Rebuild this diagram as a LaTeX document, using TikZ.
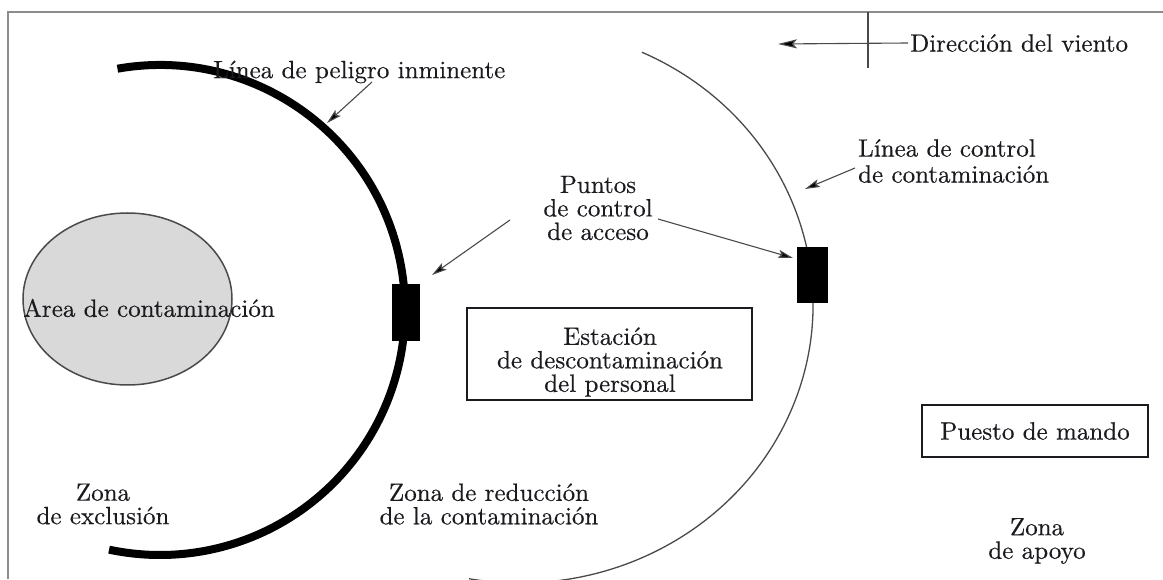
\documentclass[tikz,border=0pt]{standalone}
\usepackage{fontspec}
\newfontfamily\reffam{lmroman10-regular.otf}[FakeBold=0.4]
\usetikzlibrary{arrows.meta,shapes.geometric}
\definecolor{ink}{HTML}{1A1A1F}
\definecolor{linegray}{HTML}{4A4A4A}
\definecolor{framegray}{HTML}{8C8C8C}
\definecolor{areafill}{HTML}{D9D9D9}
\begin{document}
\begin{tikzpicture}[x=1pt,y=1pt,
  lbl/.style={text=ink,font=\reffam\fontsize{25}{23.5}\selectfont,inner sep=0pt,align=center},
  lblleft/.style={lbl,align=left,font=\reffam\fontsize{25}{26}\selectfont},
  framebox/.style={draw=ink,line width=1.6pt,inner sep=0pt},
  gatebox/.style={fill=black,inner sep=0pt},
  pointer/.style={draw=linegray,line width=1.1pt,-{Stealth[length=15pt,width=8pt,inset=3pt,fill=black]}},
  windpointer/.style={pointer,-{Stealth[length=19pt,width=9pt,inset=4pt,fill=black]}}
]
\useasboundingbox (0,0) rectangle (1163,579);
% frame
\draw[framegray,line width=2pt] (8,0) -- (8,567) -- (1163,567);
% contamination area
\node[ellipse,draw=linegray,line width=1.5pt,fill=areafill,minimum width=209pt,minimum height=172pt,inner sep=0pt] (area) at (127.5,280) {};
\node[lbl] (arealbl) at (149,271) {Area de contaminación};
% imminent danger line (thick arc)
\draw[black,line width=8pt] (160,269) ++(100:245) arc[start angle=100,end angle=-102,radius=245];
% contamination control line (thin arc)
\draw[linegray,line width=1.3pt] (520,274) ++(65.4:293 and 278) arc[start angle=65.4,end angle=-100,x radius=293,y radius=278];
% access control points
\node[gatebox,minimum width=28pt,minimum height=57pt] (gate1) at (406,266) {};
\node[gatebox,minimum width=31pt,minimum height=56pt] (gate2) at (812,304) {};
% wind direction
\coordinate (windtop) at (868,567);
\coordinate (windbot) at (868,511);
\draw[linegray,line width=1.5pt] (windtop) -- (windbot);
\node[lbl,anchor=west] (wind) at (910,536) {Dirección del viento};
\coordinate (windtip) at (778,535);
\draw[windpointer] ([xshift=-2pt]wind.west) -- (windtip);
% labels
\node[lbl,anchor=west] (peligro) at (213,507) {Línea de peligro inminente};
\coordinate (peligroA) at (372,497);
\coordinate (peligroB) at (327,456);
\draw[pointer] (peligroA) -- (peligroB);
\node[lblleft,anchor=west] (control) at (858,418) {Línea de control\\de contaminación};
\coordinate (controlA) at (855,411);
\coordinate (controlB) at (805,390);
\draw[pointer] (controlA) -- (controlB);
\node[lbl] (puntos) at (598,371) {Puntos\\de control\\de acceso};
\coordinate (puntosA) at (510,359);
\coordinate (puntosB) at (432,304);
\coordinate (puntosC) at (658,360);
\coordinate (puntosD) at (793,321);
\draw[pointer] (puntosA) -- (puntosB);
\draw[pointer] (puntosC) -- (puntosD);
% boxes
\node[framebox,minimum width=285pt,minimum height=92pt] (estacion) at (609.5,225) {};
\node[lbl] (estacionlbl) at (610,217) {Estación\\de descontaminación\\del personal};
\node[framebox,minimum width=226pt,minimum height=52pt] (mando) at (1035,148) {};
\node[lbl] (mandolbl) at (1035,148) {Puesto de mando};
% zones
\node[lbl] (exclusion) at (103,75) {Zona\\de exclusión};
\node[lbl] (reduccion) at (489,75) {Zona de reducción\\de la contaminación};
\node[lbl] (apoyo) at (1037,38) {Zona\\de apoyo};
\end{tikzpicture}
\end{document}
